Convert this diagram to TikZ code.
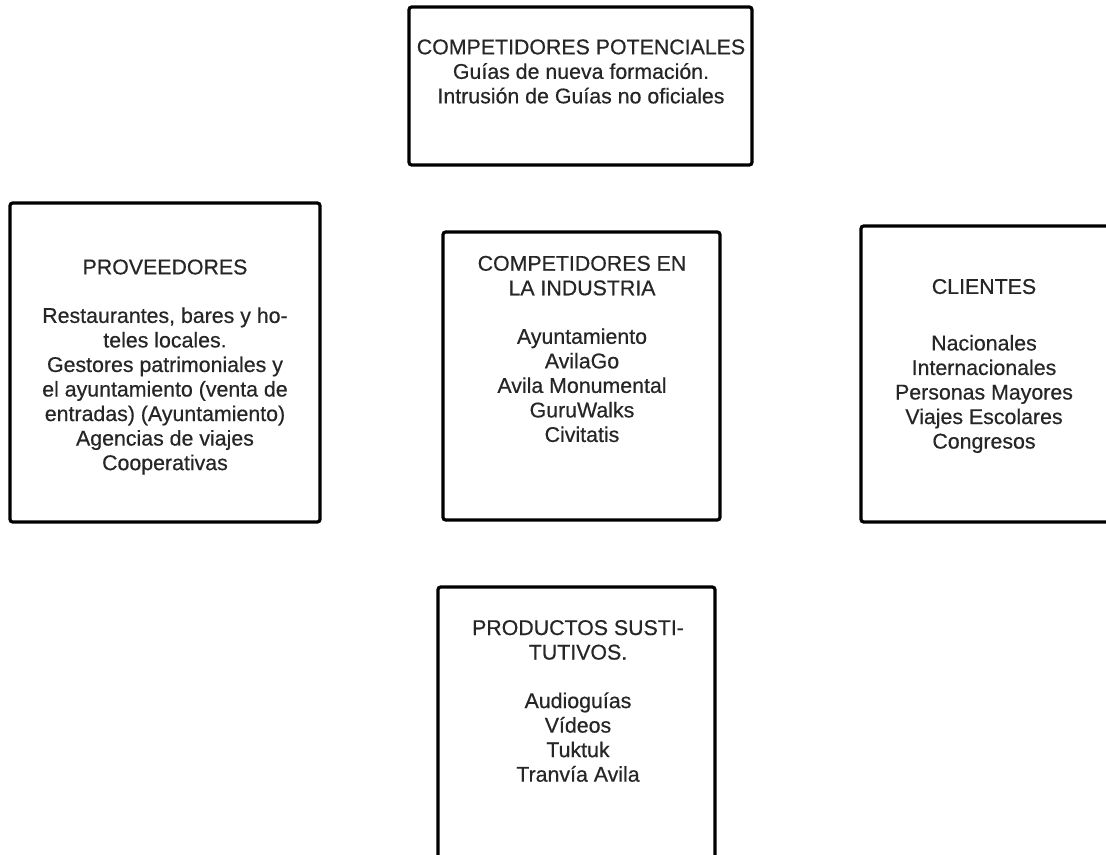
\documentclass[tikz,border=0pt]{standalone}
\usepackage{fontspec}
\setmainfont{Liberation Sans}
\newfontfamily\heavyfont{Liberation Sans}[FakeBold=0.5]
\begin{document}
\begin{tikzpicture}[x=0.75pt,y=-0.75pt,
  box/.style={draw=black,line width=2.4pt,rounded corners=2pt,inner sep=0pt,outer sep=0pt,fill=white},
  txt/.style={align=center,inner sep=0pt,font=\heavyfont\fontsize{16}{18.4}\selectfont,text=black!85}]
\path[use as bounding box] (0,0) rectangle (1106,855);
\clip (0,0) rectangle (1106,855);
\fill[white] (0,0) rectangle (1106,855);
% boxes
\node[box,minimum width=257.25pt,minimum height=118.5pt] (pot) at (580.5,86) {};
\node[box,minimum width=232.5pt,minimum height=239.25pt] (prov) at (165,362.5) {};
\node[box,minimum width=207.75pt,minimum height=216pt] (comp) at (581.5,376) {};
\node[box,minimum width=194.25pt,minimum height=222pt] (cli) at (990.5,374) {};
\node[box,minimum width=207.75pt,minimum height=212.25pt] (sus) at (576.5,728.5) {};
% texts
\node[txt] (potT) at (581,71.5) {COMPETIDORES POTENCIALES\\Guías de nueva formación.\\Intrusión de Guías no oficiales};
\node[txt] (provT) at (165,367) {PROVEEDORES\\[18pt]Restaurantes, bares y ho-\\teles locales.\\Gestores patrimoniales y\\el ayuntamiento (venta de\\entradas) (Ayuntamiento)\\Agencias de viajes\\Cooperativas};
\node[txt] (compT) at (582,349) {COMPETIDORES EN\\LA INDUSTRIA\\[18pt]Ayuntamiento\\AvilaGo\\Avila Monumental\\GuruWalks\\Civitatis};
\node[txt] (cliT) at (984,366) {CLIENTES\\[24pt]Nacionales\\Internacionales\\Personas Mayores\\Viajes Escolares\\Congresos};
\node[txt] (susT) at (578,701) {PRODUCTOS SUSTI-\\TUTIVOS.\\[18pt]Audioguías\\Vídeos\\Tuktuk\\Tranvía Avila};
\end{tikzpicture}
\end{document}
